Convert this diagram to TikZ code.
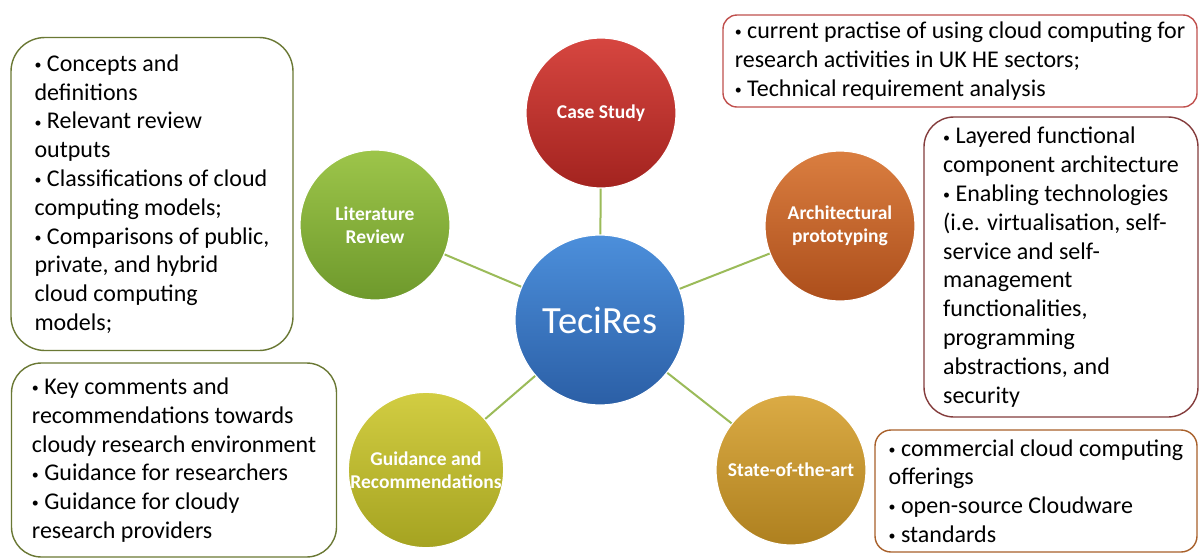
\documentclass[tikz,border=0pt]{standalone}
\usepackage{fontspec}
\setmainfont{Carlito}
\usepackage{tikz}
\usetikzlibrary{positioning}

\definecolor{linkgreen}{HTML}{9BBB59}
\definecolor{hubtop}{HTML}{4C8FDB}
\definecolor{hubbot}{HTML}{2B5FA6}
\definecolor{casetop}{HTML}{D64640}
\definecolor{casebot}{HTML}{A3231F}
\definecolor{littop}{HTML}{9DC54A}
\definecolor{litbot}{HTML}{6E992C}
\definecolor{archtop}{HTML}{DA7E40}
\definecolor{archbot}{HTML}{AC4E1B}
\definecolor{guidetop}{HTML}{D2CD42}
\definecolor{guidebot}{HTML}{A5A321}
\definecolor{sotatop}{HTML}{DBAB45}
\definecolor{sotabot}{HTML}{AE801F}
\definecolor{caseline}{HTML}{C0504D}
\definecolor{archline}{HTML}{843C3C}
\definecolor{sotaline}{HTML}{A8602A}
\definecolor{litline}{HTML}{6A7834}

% small bullet in front of each item
\newcommand{\nbul}{\raisebox{0.15ex}{\fontsize{14}{14}\selectfont\textbullet}\ }

\tikzset{
	ball/.style={circle, minimum size=150pt, inner sep=0pt, align=center,
		text=white, draw=white!75, line width=1.2pt,
		font=\fontsize{19.5}{23.5}\selectfont\bfseries},
	note/.style={draw, rounded corners=20pt, align=left, inner sep=0pt,
		line width=1.4pt, fill=white, font=\fontsize{24}{28.8}\selectfont},
	link/.style={draw=linkgreen, line width=2pt}
}

\begin{document}
\begin{tikzpicture}[x=1pt, y=-1pt]
	\useasboundingbox[fill=white] (0,0) rectangle (1200,558);
	
	%% ── Hub and topic circles ───────────────────────────────────────
	\node[ball, minimum size=170pt, top color=hubtop, bottom color=hubbot,
	font=\fontsize{38.5}{40}\selectfont] (hub) at (600,320) {TeciRes};
	
	\node[ball, top color=casetop, bottom color=casebot] (case) at (601,113)
	{Case Study};
	\node[ball, top color=littop, bottom color=litbot] (lit) at (375,225)
	{Literature\\Review};
	\node[ball, top color=archtop, bottom color=archbot] (arch) at (840,226)
	{Architectural\\prototyping};
	\node[ball, top color=guidetop, bottom color=guidebot] (guide) at (426,470)
	{Guidance and\\Recommendations};
	\node[ball, top color=sotatop, bottom color=sotabot] (sota) at (791,470)
	{State-of-the-art};
	
	%% ── Spokes ──────────────────────────────────────────────────────
	\foreach \t in {case,lit,arch,guide,sota}
	\draw[link] (hub) -- (\t);
	
	%% ── Description boxes ───────────────────────────────────────────
	\node[note, draw=caseline, rounded corners=14pt,
	minimum width=474pt, minimum height=92pt] (casebox) at (960,61)
	{\nbul current practise of using cloud computing for\\
		research activities in UK HE sectors;\\
		\nbul Technical requirement analysis};
	
	\node[note, draw=archline, rounded corners=30pt,
	minimum width=274pt, minimum height=300pt] (archbox) at (1061,267)
	{\nbul Layered functional\\
		component architecture\\
		\nbul Enabling technologies\\
		(i.e. virtualisation, self-\\
		service and self-\\
		management\\
		functionalities,\\
		programming\\
		abstractions, and\\
		security};
	
	\node[note, draw=sotaline, rounded corners=16pt,
	minimum width=322pt, minimum height=122pt] (sotabox) at (1036,491)
	{\nbul commercial cloud computing\\
		offerings\\
		\nbul open-source Cloudware\\
		\nbul standards};
	
	\node[note, draw=litline, rounded corners=34pt,
	minimum width=282pt, minimum height=313pt] (litbox) at (152,194)
	{\nbul Concepts and\\
		definitions\\
		\nbul Relevant review\\
		outputs\\
		\nbul Classifications of cloud\\
		computing models;\\
		\nbul Comparisons of public,\\
		private, and hybrid\\
		cloud computing\\
		models;};
	
	\node[note, draw=litline, rounded corners=30pt,
	minimum width=325pt, minimum height=194pt] (guidebox) at (174,460)
	{\nbul Key comments and\\
		recommendations towards\\
		cloudy research environment\\
		\nbul Guidance for researchers\\
		\nbul Guidance for cloudy\\
		research providers};
\end{tikzpicture}
\end{document}
